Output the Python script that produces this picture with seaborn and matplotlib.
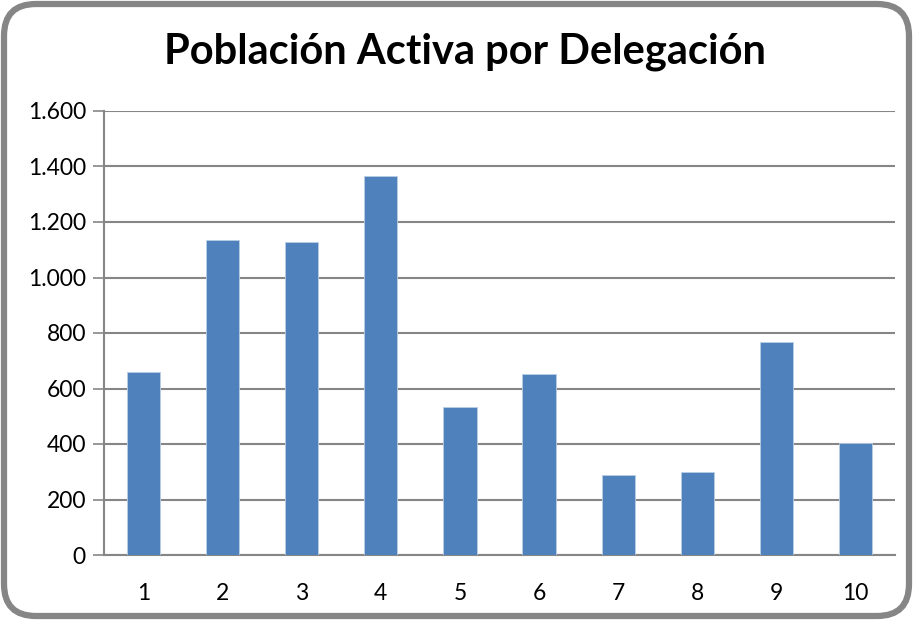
import numpy as np
import pandas as pd
import matplotlib
matplotlib.use('Agg')
import matplotlib.pyplot as plt
import seaborn as sns
from matplotlib.patches import FancyBboxPatch
from matplotlib.ticker import FuncFormatter, FixedLocator

# datos
delegaciones = ['1', '2', '3', '4', '5', '6', '7', '8', '9', '10']
poblacion = [659, 1136, 1127, 1365, 534, 651, 288, 300, 766, 405]

df = pd.DataFrame({'delegacion': delegaciones, 'poblacion': poblacion})

sns.set_style('white')
plt.rcParams['font.family'] = ['Lato', 'DejaVu Sans']
plt.rcParams['text.color'] = 'black'

fig = plt.figure(figsize=(9.13, 6.2), dpi=100)
ax = fig.add_axes([104 / 913, 1 - 555 / 620, (895 - 104) / 913, (555 - 111) / 620])

sns.barplot(data=df, x='delegacion', y='poblacion', color='#4F81BD', saturation=1,
            width=0.42, edgecolor='#B9CDE5', linewidth=0.6, ax=ax, zorder=3)

ax.set_ylim(0, 1600)
ax.set_xlim(-0.5, 9.5)
ax.set_yticks(np.arange(0, 1601, 200))
ax.yaxis.set_major_formatter(FuncFormatter(lambda v, p: '{:,.0f}'.format(v).replace(',', '.')))
ax.yaxis.grid(True, color='#868686', linewidth=1.5, zorder=0)
ax.set_axisbelow(True)

ax.xaxis.set_minor_locator(FixedLocator(np.arange(-0.5, 10, 1)))
ax.tick_params(axis='x', which='major', length=0, pad=20, labelsize=16.5, labelcolor='black')
ax.tick_params(axis='x', which='minor', length=8, width=1.2, color='#868686', direction='out')
ax.tick_params(axis='y', which='major', length=8, width=1.2, color='#868686', direction='out',
               labelsize=16.5, labelcolor='black', pad=5, left=True)
ax.set_xlabel('')
ax.set_ylabel('')

for s in ['top', 'right']:
    ax.spines[s].set_visible(False)
for s in ['left', 'bottom']:
    ax.spines[s].set_color('#868686')
    ax.spines[s].set_linewidth(1.5)

fig.text(465 / 913, 1 - 52 / 620, 'Población Activa por Delegación', ha='center', va='center',
         fontsize=30, fontweight='bold', color='black')

borde = FancyBboxPatch((4 / 913, 4 / 620), 1 - 8 / 913, 1 - 8 / 620,
                       boxstyle='round,pad=0,rounding_size=0.035', transform=fig.transFigure,
                       facecolor='none', edgecolor='#868686', linewidth=4.5, mutation_aspect=913 / 620)
fig.patches.append(borde)

fig.savefig('out.png', dpi=100)
